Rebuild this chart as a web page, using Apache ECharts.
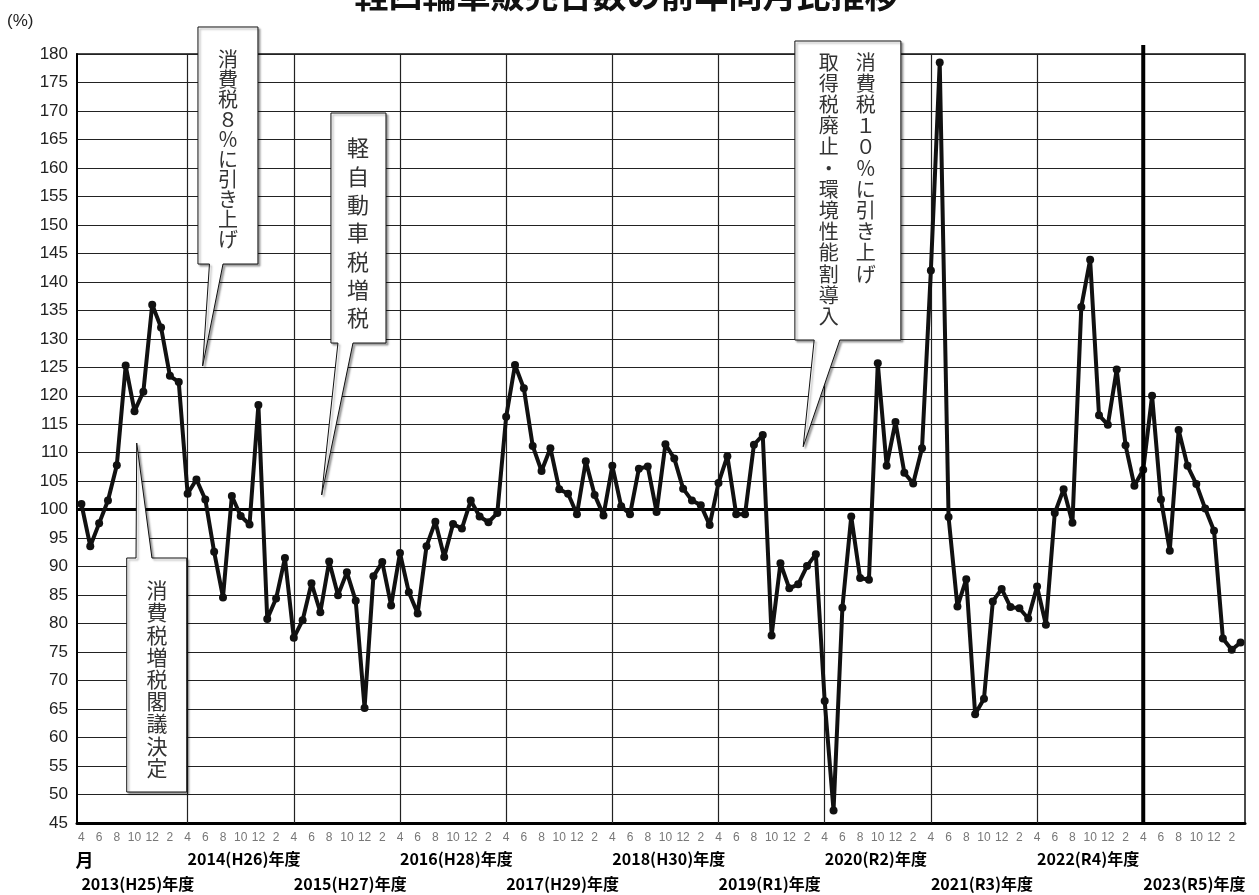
<!DOCTYPE html>
<html><head><meta charset="utf-8">
<script src="https://cdn.jsdelivr.net/npm/echarts@6/dist/echarts.min.js"></script>
<style>html,body{margin:0;padding:0;background:#fff}#c{width:1259px;height:895px}</style>
</head><body><div id="c"></div>
<script>
// ---------- text ----------
const titleText = '軽四輪車販売台数の前年同月比推移';
const unitText = '(%)';
const monthWord = '月';
const fiscalYears = ['2013(H25)年度','2014(H26)年度','2015(H27)年度','2016(H28)年度','2017(H29)年度','2018(H30)年度','2019(R1)年度','2020(R2)年度','2021(R3)年度','2022(R4)年度','2023(R5)年度'];
const monthNames = ['4','5','6','7','8','9','10','11','12','1','2','3'];
const note1 = '消費税８％に引き上げ';
const note2 = '軽自動車税増税';
const note3 = '消費税増税閣議決定';
const note4a = '消費税１０％に引き上げ';
const note4b = '取得税廃止・環境性能割導入';

// ---------- values (% of same month previous year) ----------
const fy2013 = [101.0, 93.6, 97.6, 101.6, 107.8, 125.3, 117.3, 120.7, 136.0, 132.0, 123.5, 122.4];
const fy2014 = [102.8, 105.3, 101.8, 92.6, 84.6, 102.4, 98.9, 97.4, 118.4, 80.8, 84.4, 91.5];
const fy2015 = [77.5, 80.6, 87.1, 82.0, 90.9, 85.0, 89.0, 84.0, 65.2, 88.3, 90.8, 83.2];
const fy2016 = [92.4, 85.5, 81.8, 93.6, 97.9, 91.7, 97.5, 96.7, 101.6, 98.8, 97.8, 99.4];
const fy2017 = [116.3, 125.4, 121.3, 111.2, 106.8, 110.8, 103.6, 102.8, 99.2, 108.5, 102.6, 99.0];
const fy2018 = [107.7, 100.6, 99.2, 107.2, 107.6, 99.6, 111.5, 109.0, 103.7, 101.6, 100.8, 97.3];
const fy2019 = [104.7, 109.4, 99.2, 99.2, 111.4, 113.1, 77.9, 90.6, 86.2, 86.9, 90.1, 92.2];
const fy2020 = [66.4, 47.2, 82.8, 98.8, 88.0, 87.7, 125.7, 107.7, 115.4, 106.5, 104.6, 110.8];
const fy2021 = [142.0, 178.5, 98.7, 83.0, 87.8, 64.1, 66.8, 83.9, 86.1, 82.9, 82.7, 80.9];
const fy2022 = [86.5, 79.8, 99.4, 103.6, 97.7, 135.6, 143.9, 116.6, 114.9, 124.6, 111.3, 104.2];
const fy2023 = [107.0, 120.0, 101.8, 92.8, 114.0, 107.7, 104.5, 100.2, 96.3, 77.4, 75.4, 76.7];

const yMin = 45, yMax = 180, yStep = 5, baseLine = 100;

// ---------- build ----------
const allYears = [fy2013, fy2014, fy2015, fy2016, fy2017, fy2018, fy2019, fy2020, fy2021, fy2022, fy2023];
const categories = [];
fiscalYears.forEach((fy, k) => monthNames.forEach(m => categories.push(k + '-' + m)));
const values = [].concat(...allYears);
const yearStartCats = categories.filter((c, i) => i % 12 === 0 && i > 0 && i !== 120);
const thickYearIndex = 120;

const chart = echarts.init(document.getElementById('c'), null, {renderer: 'canvas'});
const labelFont = 'Liberation Sans';
const jpFont = 'Noto Sans CJK JP';

const option = {
  animation: false,
  backgroundColor: '#fff',
  grid: {left: 77, right: 14, top: 54, bottom: 72, show: true, borderColor: '#111', borderWidth: 1.5, containLabel: false, outerBoundsMode: 'none'},
  xAxis: [
    {type: 'category', data: categories, boundaryGap: true,
      axisLine: {show: true, lineStyle: {color: '#000', width: 3}}, axisTick: {show: false}, splitLine: {show: false},
      axisLabel: {interval: (i) => i % 2 === 0, formatter: (v) => v.split('-')[1], color: '#777', fontSize: 12, margin: 9, fontFamily: labelFont}},
    {type: 'category', data: categories, boundaryGap: true, position: 'bottom', offset: 20,
      axisLine: {show: false}, axisTick: {show: false}, splitLine: {show: false},
      axisLabel: {interval: (i) => i === 0 || i % 24 === 12, formatter: (v, i) => i === 0 ? '{m|' + monthWord + '}' : fiscalYears[i / 12],
        align: 'left', color: '#000', fontWeight: 'bold', fontSize: 16, margin: 8, fontFamily: jpFont,
        rich: {m: {fontSize: 18, fontWeight: 'bold', fontFamily: jpFont, color: '#000', padding: [0, 0, 0, -6]}}}},
    {type: 'category', data: categories, boundaryGap: true, position: 'bottom', offset: 45,
      axisLine: {show: false}, axisTick: {show: false}, splitLine: {show: false},
      axisLabel: {interval: (i) => i % 24 === 0, formatter: (v, i) => fiscalYears[i / 12],
        align: 'left', color: '#000', fontWeight: 'bold', fontSize: 16, margin: 8, fontFamily: jpFont}}
  ],
  yAxis: {type: 'value', min: yMin, max: yMax, interval: yStep,
    axisLine: {show: true, lineStyle: {color: '#000', width: 2}}, axisTick: {show: false},
    splitLine: {show: true, lineStyle: {color: '#222', width: 1.2}},
    axisLabel: {color: '#222', fontSize: 17, margin: 9, fontFamily: labelFont}},
  series: [{
    type: 'line', data: values, xAxisIndex: 0, yAxisIndex: 0,
    symbol: 'circle', symbolSize: 8, showSymbol: true, showAllSymbol: true,
    lineStyle: {color: '#111', width: 4}, itemStyle: {color: '#111'},
    z: 5,
    markLine: {silent: true, symbol: 'none', label: {show: false}, animation: false,
      data: [{yAxis: baseLine, lineStyle: {width: 3, color: '#000', type: 'solid'}}]
        .concat(yearStartCats.map(c => ({xAxis: c, lineStyle: {width: 1.2, color: '#222', type: 'solid'}})))}
  }]
};
chart.setOption(option);

// ---------- annotations (anchored to data coordinates) ----------
function toPx(i, v) {
  const a = chart.convertToPixel({seriesIndex: 0}, [0, v]);
  const b = chart.convertToPixel({seriesIndex: 0}, [1, v]);
  return [a[0] + i * (b[0] - a[0]), a[1]];
}
const calloutLayout = [
  {cols: [{text: note1, x: 16.56}], top: 180.8, font: 20, lh: 20,
    outline: [[13.17,184.74],[19.95,184.74],[19.95,143.13],[16.00,143.13],[13.70,125.22],[14.47,143.13],[13.17,143.13]]},
  {cols: [{text: note2, x: 31.25}], top: 165.96, font: 22, lh: 28.3,
    outline: [[28.20,169.64],[34.42,169.64],[34.42,129.26],[30.69,129.26],[27.15,102.58],[28.99,129.26],[28.20,129.26]]},
  {cols: [{text: note3, x: 8.54}], top: 87.83, font: 21, lh: 22.2,
    outline: [[5.12,91.52],[6.17,91.52],[6.25,111.71],[7.97,91.52],[11.90,91.52],[11.90,50.44],[5.12,50.44]]},
  {cols: [{text: note4a, x: 88.65}, {text: note4b, x: 84.47}], top: 180.44, font: 20, lh: 21.2,
    outline: [[80.63,182.28],[92.61,182.28],[92.61,129.79],[85.71,129.79],[81.57,111.06],[82.81,129.79],[80.63,129.79]]}
];
const graphics = [];
graphics.push({type: 'text', x: chart.getWidth() / 2 - 3, y: -5, z: 200,
  style: {text: titleText, font: 'bold 34px "Noto Sans CJK JP"', align: 'center', verticalAlign: 'middle', fill: '#111'}});
graphics.push({type: 'text', x: 7, y: 21, z: 200,
  style: {text: unitText, font: '17px "Liberation Sans"', align: 'left', verticalAlign: 'middle', fill: '#222'}});
const tTop = toPx(thickYearIndex, 181.6), tBot = toPx(thickYearIndex, yMin);
graphics.push({type: 'line', z: 60, shape: {x1: tTop[0], y1: tTop[1], x2: tBot[0], y2: tBot[1]}, style: {stroke: '#000', lineWidth: 4}});
calloutLayout.forEach(c => {
  graphics.push({type: 'polygon', z: 100, shape: {points: c.outline.map(p => toPx(p[0], p[1]))},
    style: {fill: '#fff', stroke: '#111', lineWidth: 1, shadowBlur: 2, shadowOffsetX: 2, shadowOffsetY: 2, shadowColor: 'rgba(0,0,0,0.35)'}});
  c.cols.forEach(col => {
    const p = toPx(col.x, c.top);
    graphics.push({type: 'text', z: 101, x: p[0], y: p[1],
      style: {text: col.text.split('').join('\n'), font: c.font + 'px "Noto Sans CJK JP"', lineHeight: c.lh, align: 'center', verticalAlign: 'top', fill: '#333'}});
  });
});
chart.setOption({graphic: {elements: graphics}});
</script>
</body></html>
